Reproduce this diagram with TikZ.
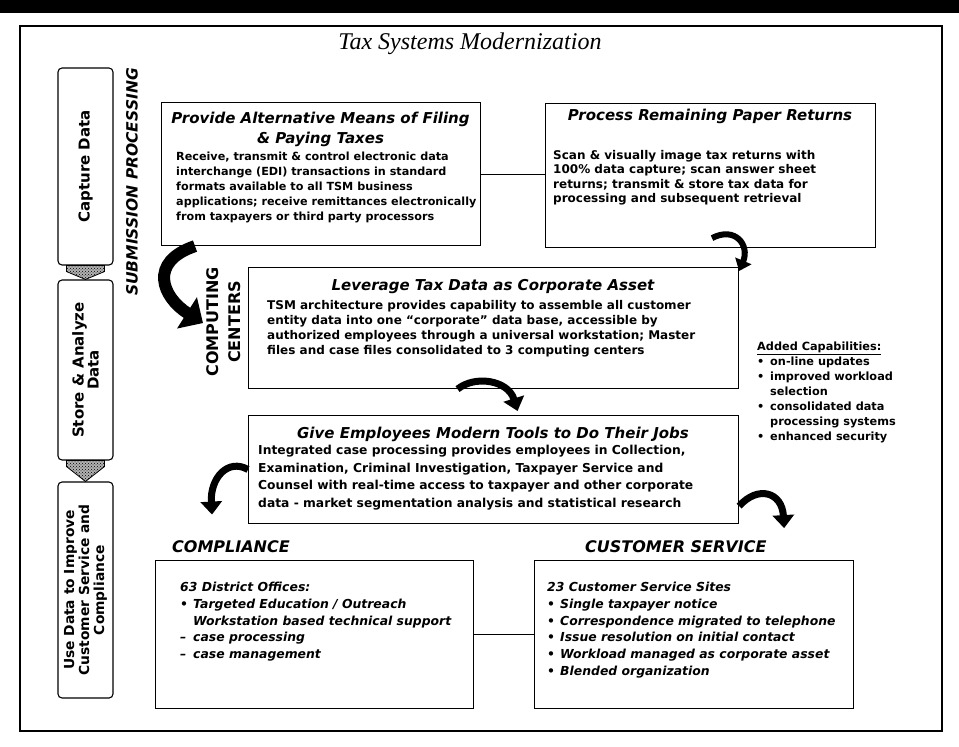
\documentclass[tikz,border=0pt]{standalone}
\usepackage{fontspec}
\setmainfont{DejaVu Sans}[BoldFont=DejaVu Sans Bold, ItalicFont=DejaVu Sans Oblique, BoldItalicFont=DejaVu Sans Bold Oblique]
\newfontfamily\titlefont{Liberation Serif}
\usepackage{tikz}
\usetikzlibrary{arrows.meta, calc, patterns}

\newcommand{\headfont}{\fontsize{15}{20}\selectfont\bfseries\itshape}
\newcommand{\blt}{\makebox[13pt][l]{•}}
\newcommand{\dsh}{\makebox[13pt][l]{–}}
\newcommand{\indt}{\hspace*{13pt}}

\begin{document}
\begin{tikzpicture}
        [x=1pt, y=-1pt,
        box/.style={draw, line width=1.1pt, anchor=north west, inner sep=0pt},
        sidebox/.style={draw, line width=1.1pt, rounded corners=4pt, rotate=90, inner sep=0pt, align=center},
        head/.style={anchor=north, inner sep=0pt, align=center, font=\headfont},
        body/.style={anchor=north west, inner sep=0pt, align=left},
        tag/.style={anchor=west, inner sep=0pt, font=\fontsize{16}{20}\selectfont\bfseries\itshape},
        hatch/.style={draw, line width=0.8pt, preaction={fill=black!30}, pattern=crosshatch dots},
        curvy/.style={line width=7pt, -{Triangle[length=13pt,width=21pt]}}]
        \useasboundingbox (0,0) rectangle (959,747);
        \fill (0,0) rectangle (959,13);
        \draw[line width=1.4pt] (20,26) rectangle (942,731);
        \node[font=\titlefont\itshape\fontsize{24}{28}\selectfont] (title) at (470,44) {Tax Systems Modernization};

        % left column
        \node[sidebox, minimum width=197, minimum height=55, font=\fontsize{15}{15}\selectfont\bfseries] (cap) at (85.5,166.5) {Capture Data};
        \node[sidebox, minimum width=180, minimum height=55, font=\fontsize{15}{15}\selectfont\bfseries] (store) at (85.5,370) {Store \& Analyze\\Data};
        \node[sidebox, minimum width=216, minimum height=55, font=\fontsize{13.8}{15}\selectfont\bfseries] (use) at (85.5,590) {Use Data to Improve\\Customer Service and\\Compliance};
        \path[hatch] ($(cap.west)+(-19,0)$) -- ($(cap.west)+(19,0)$) -- ($(cap.west)+(19,6)$) -- (store.east) -- ($(cap.west)+(-19,6)$) -- cycle;
        \path[hatch] ($(store.west)+(-19,0)$) -- ($(store.west)+(19,0)$) -- ($(store.west)+(19,6)$) -- (use.east) -- ($(store.west)+(-19,6)$) -- cycle;
        \node[rotate=90, font=\fontsize{15.5}{18}\selectfont\bfseries\itshape] (sub) at (132,182) {SUBMISSION PROCESSING};
        \node[rotate=90, align=center, font=\fontsize{16}{22}\selectfont\bfseries] (cc) at (224,322) {COMPUTING\\CENTERS};

        % boxes
        \node[box, minimum width=319, minimum height=143] (alt) at (161,102) {};
        \node[box, minimum width=330, minimum height=144] (paper) at (545,103) {};
        \node[box, minimum width=490, minimum height=121] (lev) at (248,267) {};
        \node[box, minimum width=490, minimum height=108] (give) at (248,415) {};
        \node[box, minimum width=318, minimum height=148] (compl) at (155,560) {};
        \node[box, minimum width=319, minimum height=148] (cs) at (534,560) {};

        \node[head] (altH) at (320.5,112) {Provide Alternative Means of Filing\\\& Paying Taxes};
        \node[body, font=\fontsize{11.2}{15}\selectfont\bfseries] (altB) at (176,152)
           {Receive, transmit \& control electronic data\\
            interchange (EDI) transactions in standard\\
            formats available to all TSM business\\
            applications; receive remittances electronically\\
            from taxpayers or third party processors};
        \node[head] (paperH) at (710,109) {Process Remaining Paper Returns};
        \node[body, font=\fontsize{12}{14.5}\selectfont\bfseries] (paperB) at (553,150)
           {Scan \& visually image tax returns with\\
            100\% data capture; scan answer sheet\\
            returns; transmit \& store tax data for\\
            processing and subsequent retrieval};
        \node[head] (levH) at (493,279) {Leverage Tax Data as Corporate Asset};
        \node[body, font=\fontsize{12}{15}\selectfont\bfseries] (levB) at (267,300)
           {TSM architecture provides capability to assemble all customer\\
            entity data into one “corporate” data base, accessible by\\
            authorized employees through a universal workstation; Master\\
            files and case files consolidated to 3 computing centers};
        \node[head] (giveH) at (493,427) {Give Employees Modern Tools to Do Their Jobs};
        \node[body, font=\fontsize{12.3}{17.5}\selectfont\bfseries] (giveB) at (258,445)
           {Integrated case processing provides employees in Collection,\\
            Examination, Criminal Investigation, Taxpayer Service and\\
            Counsel with real-time access to taxpayer and other corporate\\
            data - market segmentation analysis and statistical research};
        \node[body, font=\fontsize{11.3}{15}\selectfont\bfseries] (added) at (757,342)
           {\underline{Added Capabilities:}\\
            \blt on-line updates\\
            \blt improved workload\\
            \indt selection\\
            \blt consolidated data\\
            \indt processing systems\\
            \blt enhanced security};

        \node[tag] (complT) at (172,547) {COMPLIANCE};
        \node[tag] (csT) at (585,547) {CUSTOMER SERVICE};
        \node[body, font=\fontsize{12.4}{16.7}\selectfont\bfseries\itshape] (complB) at (180,582)
           {63 District Offices:\\
            \blt Targeted Education / Outreach\\
            \indt Workstation based technical support\\
            \dsh case processing\\
            \dsh case management};
        \node[body, font=\fontsize{12.4}{16.7}\selectfont\bfseries\itshape] (csB) at (547,582)
           {23 Customer Service Sites\\
            \blt Single taxpayer notice\\
            \blt Correspondence migrated to telephone\\
            \blt Issue resolution on initial contact\\
            \blt Workload managed as corporate asset\\
            \blt Blended organization};

        % connectors
        \draw[line width=1.1pt] (alt.east) -- (alt.east -| paper.west);
        \draw[line width=1.1pt] (compl) -- (cs);
        \draw[curvy, line width=12pt, -{Triangle[length=19pt,width=36pt]}] ($(alt.south west)+(34,0)$) .. controls (148,262) and (162,297) .. ($(lev.west)+(-45,-5)$);
        \draw[curvy, line width=6pt, -{Triangle[length=11pt,width=17pt]}] ($(paper.south west)+(167,-10)$) .. controls (735,226) and (750,245) .. ($(lev.north east)+(0,4)$);
        \draw[curvy] ($(lev.south)+(-36,0)$) .. controls (475,375) and (508,380) .. ($(give.north)+(24,-4)$);
        \draw[curvy] (give.west) .. controls (228,458) and (210,478) .. ($(give.west)+(-36,45)$);
        \draw[curvy] ($(give.south east)+(0,-18)$) .. controls (758,485) and (782,492) .. ($(give.south east)+(45,4)$);
\end{tikzpicture}
\end{document}
